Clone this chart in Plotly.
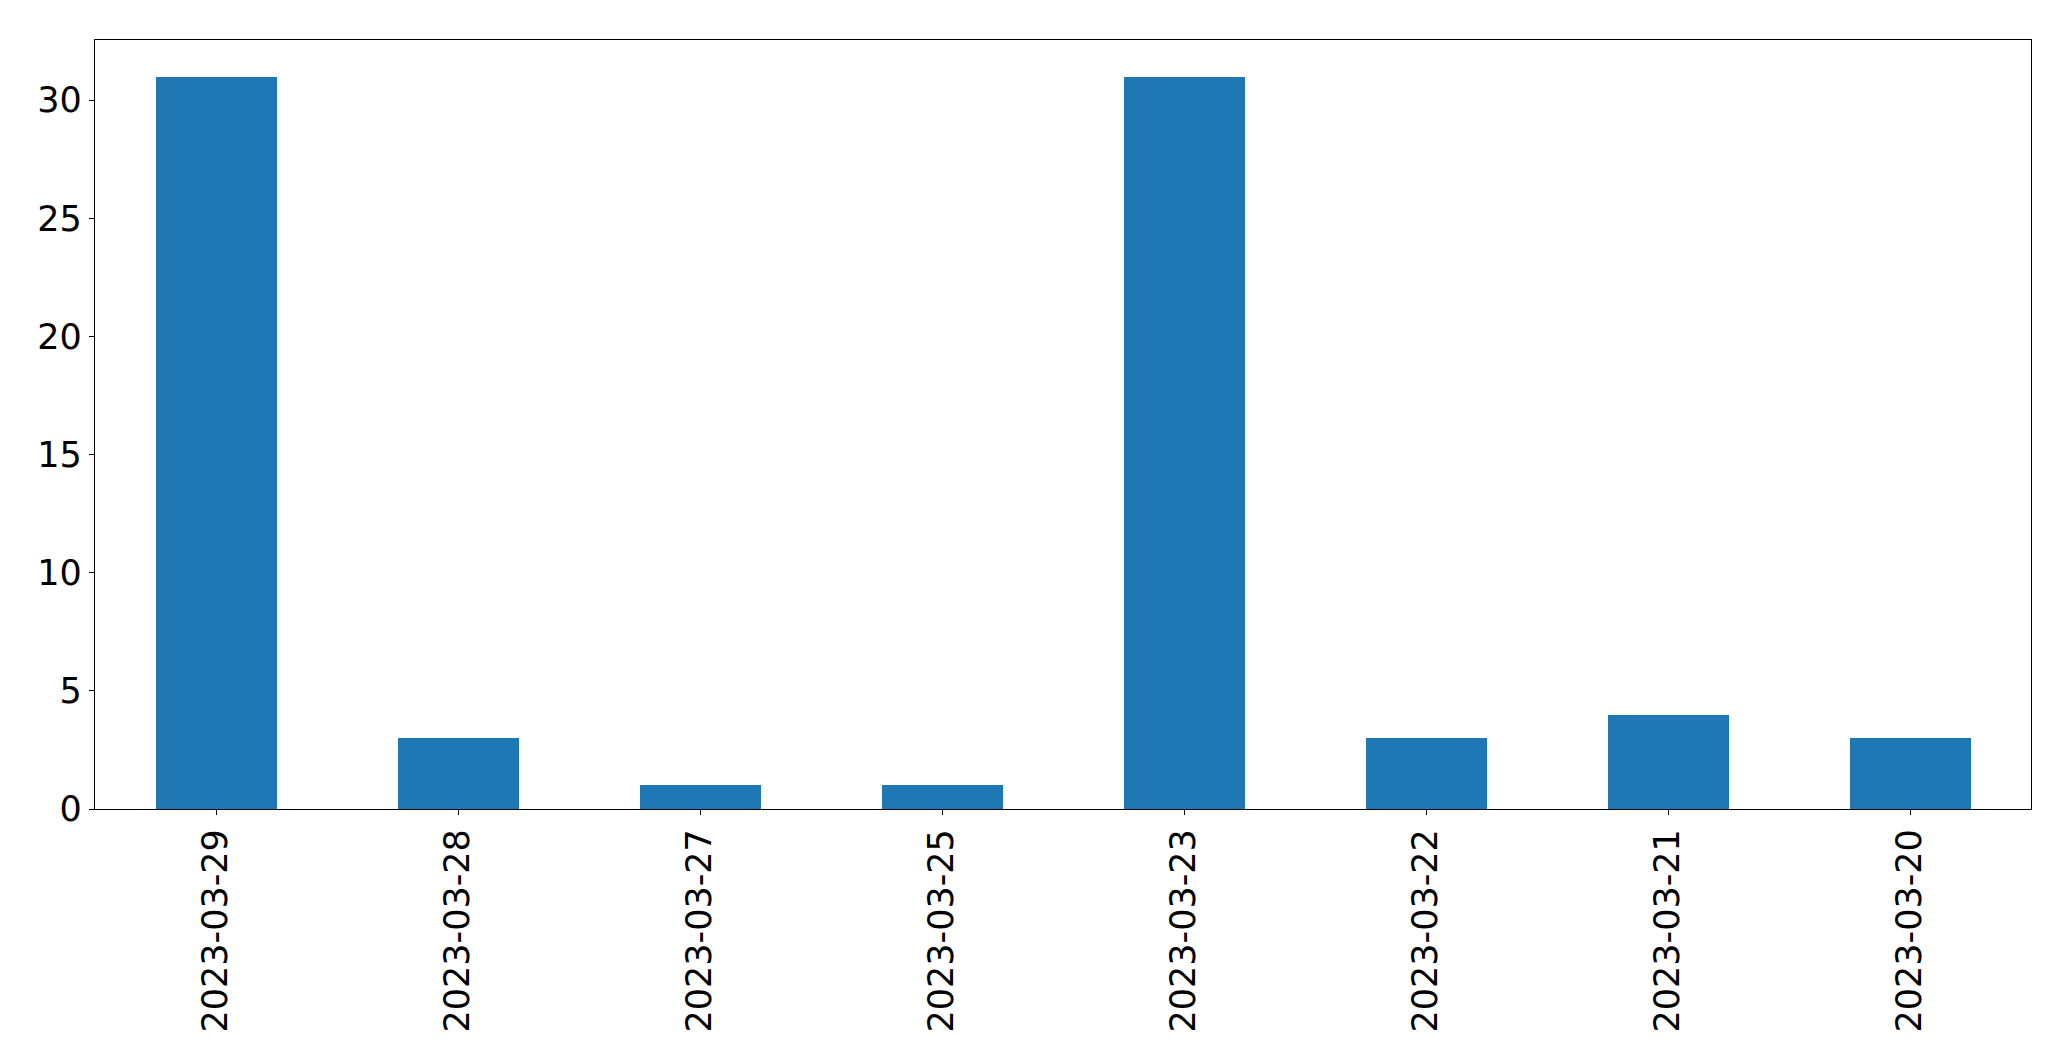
import plotly.graph_objects as go

dates = ["2023-03-29", "2023-03-28", "2023-03-27", "2023-03-25",
         "2023-03-23", "2023-03-22", "2023-03-21", "2023-03-20"]
counts = [31, 3, 1, 1, 31, 3, 4, 3]
y_ticks = [0, 5, 10, 15, 20, 25, 30]

fig = go.Figure(go.Bar(x=dates, y=counts, width=0.5,
                       marker=dict(color="#1f77b4", line=dict(width=0))))

fig.update_layout(
    width=2055, height=1045,
    margin=dict(l=87, r=32, t=32, b=244, autoexpand=False),
    paper_bgcolor="white", plot_bgcolor="white",
    font=dict(family="DejaVu Sans", size=35, color="black"),
    showlegend=False,
    bargap=0,
)
fig.update_xaxes(type="category", range=[-0.5, len(dates) - 0.5],
                 showline=True, linecolor="black", linewidth=1.3, mirror=True,
                 ticks="outside", ticklen=5, tickwidth=1.3, tickcolor="black",
                 tickangle=-90, showgrid=False, zeroline=False)
fig.update_yaxes(range=[0, 32.55], tickvals=y_ticks,
                 showline=True, linecolor="black", linewidth=1.3, mirror=True,
                 ticks="outside", ticklen=5, tickwidth=1.3, tickcolor="black",
                 showgrid=False, zeroline=False)

fig.write_html("out.html")
